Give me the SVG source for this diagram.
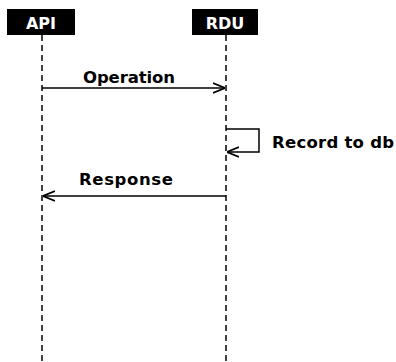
<svg xmlns="http://www.w3.org/2000/svg" width="396" height="362" viewBox="0 0 396 362">
<style>
.box{fill:#000}
.lbl{font-family:"DejaVu Sans","Liberation Sans",sans-serif;font-weight:bold;font-size:16px;fill:#fff;text-anchor:middle}
.msg{font-family:"DejaVu Sans","Liberation Sans",sans-serif;font-weight:bold;font-size:16.5px;fill:#000}
.life{stroke:#000;stroke-width:1.5;stroke-dasharray:6 4;fill:none}
.arr{stroke:#000;stroke-width:1.5;fill:none}
</style>
<defs>
<marker id="ah" viewBox="0 0 12 12" refX="12" refY="6" markerWidth="12" markerHeight="12" markerUnits="userSpaceOnUse" orient="auto">
<path d="M0,1 L12,6 L0,11" fill="none" stroke="#000" stroke-width="1.8"/>
</marker>
</defs>
<rect width="396" height="362" fill="#fff"/>
<g id="api">
<rect class="box" x="7" y="9" width="68" height="26"/>
<text class="lbl" x="41" y="28.5">API</text>
</g>
<g id="rdu">
<rect class="box" x="192" y="9" width="66" height="26"/>
<text class="lbl" x="225" y="28.5">RDU</text>
</g>
<g id="connectors">
<line class="life" x1="42" y1="35" x2="42" y2="362"/>
<line class="life" x1="226" y1="35" x2="226" y2="362"/>
<line class="arr" x1="42" y1="88" x2="225" y2="88" marker-end="url(#ah)"/>
<text class="msg" x="83" y="82.5" textLength="92">Operation</text>
<path class="arr" d="M226,129 H259 V152 H227" marker-end="url(#ah)"/>
<text class="msg" x="272" y="147.5" textLength="122">Record to db</text>
<line class="arr" x1="226" y1="196" x2="43" y2="196" marker-end="url(#ah)"/>
<text class="msg" x="79" y="185" textLength="94">Response</text>
</g>
</svg>
